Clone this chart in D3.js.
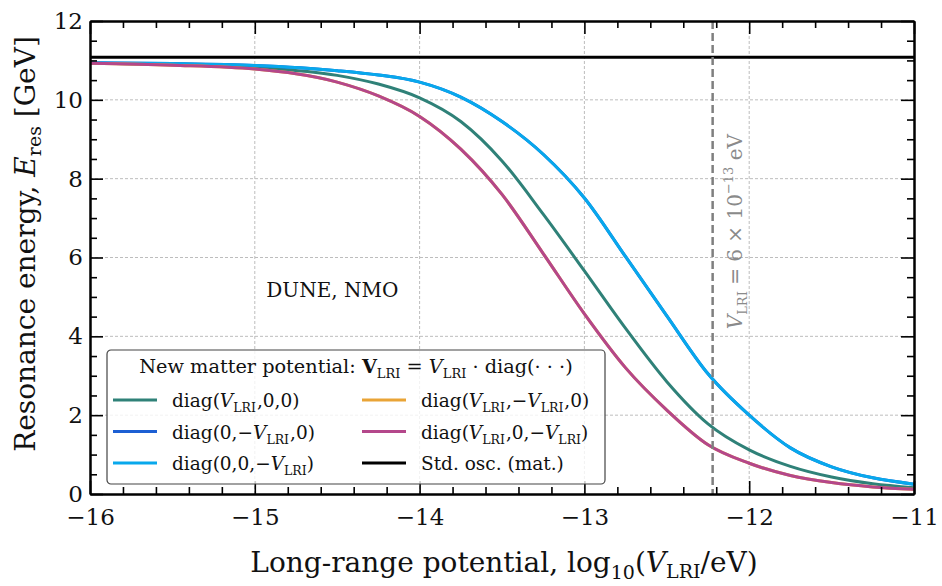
<!DOCTYPE html>
<html>
<head>
<meta charset="utf-8">
<script src="https://cdn.jsdelivr.net/npm/d3@7/dist/d3.min.js"></script>
<style>
  html, body { margin: 0; padding: 0; background: #fff; }
  svg text { font-family: "DejaVu Serif", "Liberation Serif", serif; fill: #111; }
</style>
</head>
<body>
<div id="chart"></div>
<script>
// values (log10 V_LRI on x, E_res in GeV on y)
const logV = [-16, -15.5, -15, -14.5, -14.25, -14, -13.75, -13.5, -13.25, -13, -12.75, -12.5, -12.25, -12, -11.75, -11.5, -11.25, -11];
const tealE    = [10.93, 10.90, 10.82, 10.62, 10.40, 10.05, 9.45, 8.45, 7.10, 5.66, 4.20, 2.85, 1.78, 1.12, 0.70, 0.43, 0.26, 0.16];
const cyanE    = [10.94, 10.92, 10.87, 10.74, 10.63, 10.45, 10.07, 9.45, 8.62, 7.51, 6.02, 4.52, 3.05, 2.00, 1.17, 0.69, 0.41, 0.25];
const blueE    = [10.94, 10.92, 10.87, 10.74, 10.63, 10.45, 10.07, 9.45, 8.62, 7.51, 6.02, 4.52, 3.05, 2.00, 1.17, 0.69, 0.41, 0.25]; // hidden under cyan
const magentaE = [10.93, 10.88, 10.78, 10.45, 10.10, 9.58, 8.75, 7.60, 6.10, 4.57, 3.20, 2.13, 1.25, 0.78, 0.47, 0.29, 0.18, 0.12];
const orangeE  = [10.93, 10.88, 10.78, 10.45, 10.10, 9.58, 8.75, 7.60, 6.10, 4.57, 3.20, 2.13, 1.25, 0.78, 0.47, 0.29, 0.18, 0.12]; // hidden under magenta
const stdOscE = 11.08;
const refLogV = Math.log10(6e-13);

const xTicks = [-16, -15, -14, -13, -12, -11];
const yTicks = [0, 2, 4, 6, 8, 10, 12];

const W = 942, H = 586;
const margin = { top: 21, right: 28, bottom: 92, left: 90 };
const width = W - margin.left - margin.right;
const height = H - margin.top - margin.bottom;

const svg = d3.select("#chart").append("svg")
  .attr("width", W).attr("height", H);
const g = svg.append("g").attr("transform", `translate(${margin.left},${margin.top})`);

const x = d3.scaleLinear().domain([-16, -11]).range([0, width]);
const y = d3.scaleLinear().domain([0, 12]).range([height, 0]);

// =========================
// GRID
// =========================
g.append("g").selectAll("line").data(xTicks.slice(1, -1)).join("line")
  .attr("x1", d => x(d)).attr("x2", d => x(d)).attr("y1", 0).attr("y2", height)
  .attr("stroke", "#b5b5b5").attr("stroke-width", 0.9).attr("stroke-dasharray", "3,2");
g.append("g").selectAll("line").data(yTicks.slice(1, -1)).join("line")
  .attr("y1", d => y(d)).attr("y2", d => y(d)).attr("x1", 0).attr("x2", width)
  .attr("stroke", "#b5b5b5").attr("stroke-width", 0.9).attr("stroke-dasharray", "3,2");

// =========================
// CURVES
// =========================
const series = [
  { name: "teal", values: tealE, color: "#2f8178" },
  { name: "blue", values: blueE, color: "#1d5fd3" },
  { name: "cyan", values: cyanE, color: "#08a8ec" },
  { name: "orange", values: orangeE, color: "#e9a436" },
  { name: "magenta", values: magentaE, color: "#b4478b" }
];
const line = d3.line().x(d => x(d[0])).y(d => y(d[1])).curve(d3.curveMonotoneX);
series.forEach(s => {
  g.append("path")
    .datum(logV.map((v, i) => [v, s.values[i]]))
    .attr("fill", "none").attr("stroke", s.color).attr("stroke-width", 3)
    .attr("d", line);
});

// std osc line
g.append("line")
  .attr("x1", 0).attr("x2", width).attr("y1", y(stdOscE)).attr("y2", y(stdOscE))
  .attr("stroke", "#000").attr("stroke-width", 3);

// reference V_LRI
g.append("line")
  .attr("x1", x(refLogV)).attr("x2", x(refLogV)).attr("y1", 0).attr("y2", height)
  .attr("stroke", "#7f7f7f").attr("stroke-width", 2.5).attr("stroke-dasharray", "8,4");

const refLabel = g.append("text")
  .attr("transform", `translate(${x(refLogV) + 29},${y(4.18)}) rotate(-90)`)
  .style("font-size", "20px").style("fill", "#8a8a8a");
refLabel.append("tspan").style("font-style", "italic").text("V");
refLabel.append("tspan").attr("dy", 5).style("font-size", "13px").text("LRI");
refLabel.append("tspan").attr("dy", -5).text(" = 6 × 10");
refLabel.append("tspan").attr("dy", -9).style("font-size", "13px").text("−13");
refLabel.append("tspan").attr("dy", 9).text(" eV");

// =========================
// AXES
// =========================
const fmt = d => (d < 0 ? "−" + Math.abs(d) : d);
const xMinor = d3.range(-16, -10.99, 0.2).filter(v => Math.abs(v - Math.round(v)) > 0.01);
const yMinor = d3.range(0, 12.01, 0.5).filter(v => v % 2 !== 0);

function styleAxis(sel) {
  sel.select(".domain").attr("stroke", "#000").attr("stroke-width", 2);
  sel.selectAll(".tick line").attr("stroke", "#000").attr("stroke-width", 1.6);
  sel.selectAll(".tick text").style("font-size", "23px")
    .style("font-family", "'DejaVu Serif', serif").attr("fill", "#111");
}

g.append("g").attr("transform", `translate(0,${height})`)
  .call(d3.axisBottom(x).tickValues(xTicks).tickFormat(fmt).tickSizeInner(-13).tickSizeOuter(0).tickPadding(15))
  .call(styleAxis);
g.append("g").attr("transform", `translate(0,${height})`)
  .call(d3.axisBottom(x).tickValues(xMinor).tickFormat("").tickSizeInner(-7).tickSizeOuter(0))
  .call(styleAxis);
g.append("g")
  .call(d3.axisTop(x).tickValues(xTicks).tickFormat("").tickSizeInner(-13).tickSizeOuter(0))
  .call(styleAxis);
g.append("g")
  .call(d3.axisTop(x).tickValues(xMinor).tickFormat("").tickSizeInner(-7).tickSizeOuter(0))
  .call(styleAxis);

g.append("g")
  .call(d3.axisLeft(y).tickValues(yTicks).tickFormat(fmt).tickSizeInner(-13).tickSizeOuter(0).tickPadding(7))
  .call(styleAxis);
g.append("g")
  .call(d3.axisLeft(y).tickValues(yMinor).tickFormat("").tickSizeInner(-7).tickSizeOuter(0))
  .call(styleAxis);
g.append("g").attr("transform", `translate(${width},0)`)
  .call(d3.axisRight(y).tickValues(yTicks).tickFormat("").tickSizeInner(-13).tickSizeOuter(0))
  .call(styleAxis);
g.append("g").attr("transform", `translate(${width},0)`)
  .call(d3.axisRight(y).tickValues(yMinor).tickFormat("").tickSizeInner(-7).tickSizeOuter(0))
  .call(styleAxis);

// axis labels
const xLab = svg.append("text")
  .attr("x", margin.left + width / 2 + 2).attr("y", 572)
  .attr("text-anchor", "middle").style("font-size", "28px");
xLab.append("tspan").text("Long-range potential, log");
xLab.append("tspan").attr("dy", 7).style("font-size", "19px").text("10");
xLab.append("tspan").attr("dy", -7).text("(");
xLab.append("tspan").style("font-style", "italic").text("V");
xLab.append("tspan").attr("dy", 6).style("font-size", "19px").text("LRI");
xLab.append("tspan").attr("dy", -6).text("/eV)");

const yLab = svg.append("text")
  .attr("transform", `translate(35,244) rotate(-90)`)
  .attr("text-anchor", "middle").style("font-size", "28px");
yLab.append("tspan").text("Resonance energy, ");
yLab.append("tspan").style("font-style", "italic").text("E");
yLab.append("tspan").attr("dy", 6).style("font-size", "19px").text("res");
yLab.append("tspan").attr("dy", -6).text(" [GeV]");

// annotation
g.append("text")
  .attr("x", x(-14.93)).attr("y", y(5.0))
  .style("font-size", "20px").text("DUNE, NMO");

// =========================
// LEGEND
// =========================
const legend = svg.append("g").attr("transform", "translate(107,350)");
legend.append("rect")
  .attr("width", 498).attr("height", 134).attr("rx", 4)
  .attr("fill", "#fff").attr("fill-opacity", 0.8)
  .attr("stroke", "#444").attr("stroke-width", 1.2);

const title = legend.append("text").attr("x", 249).attr("y", 23)
  .attr("text-anchor", "middle").style("font-size", "19.3px");
title.append("tspan").text("New matter potential: ");
title.append("tspan").style("font-weight", "bold").text("V");
title.append("tspan").attr("dy", 5).style("font-size", "13px").text("LRI");
title.append("tspan").attr("dy", -5).text(" = ");
title.append("tspan").style("font-style", "italic").text("V");
title.append("tspan").attr("dy", 5).style("font-size", "13px").text("LRI");
title.append("tspan").attr("dy", -5).text(" · diag(· · ·)");

// label parts: [text, italic, sub]
const V = [["V", true, false], ["LRI", false, true]];
const mV = [["−", false, false], ...V];
const entries = [
  { color: "#2f8178", col: 0, row: 0, parts: [["diag(", false, false], ...V, [",0,0)", false, false]] },
  { color: "#1d5fd3", col: 0, row: 1, parts: [["diag(0,", false, false], ...mV, [",0)", false, false]] },
  { color: "#08a8ec", col: 0, row: 2, parts: [["diag(0,0,", false, false], ...mV, [")", false, false]] },
  { color: "#e9a436", col: 1, row: 0, parts: [["diag(", false, false], ...V, [",", false, false], ...mV, [",0)", false, false]] },
  { color: "#b4478b", col: 1, row: 1, parts: [["diag(", false, false], ...V, [",0,", false, false], ...mV, [")", false, false]] },
  { color: "#000", col: 1, row: 2, parts: [["Std. osc. (mat.)", false, false]] }
];
entries.forEach(e => {
  const ex = e.col === 0 ? 6 : 255;
  const ey = 50 + e.row * 31.5;
  legend.append("line")
    .attr("x1", ex).attr("x2", ex + 44).attr("y1", ey).attr("y2", ey)
    .attr("stroke", e.color).attr("stroke-width", 3);
  const t = legend.append("text").attr("x", ex + 59).attr("y", ey + 7).style("font-size", "18.5px");
  let sub = false;
  e.parts.forEach(([txt, it, sb]) => {
    const ts = t.append("tspan").text(txt);
    if (it) ts.style("font-style", "italic");
    if (sb && !sub) { ts.attr("dy", 5).style("font-size", "12.5px"); sub = true; }
    else if (!sb && sub) { ts.attr("dy", -5); sub = false; }
    if (txt.startsWith(",")) ts.attr("dx", 1);
  });
});
</script>
</body>
</html>
